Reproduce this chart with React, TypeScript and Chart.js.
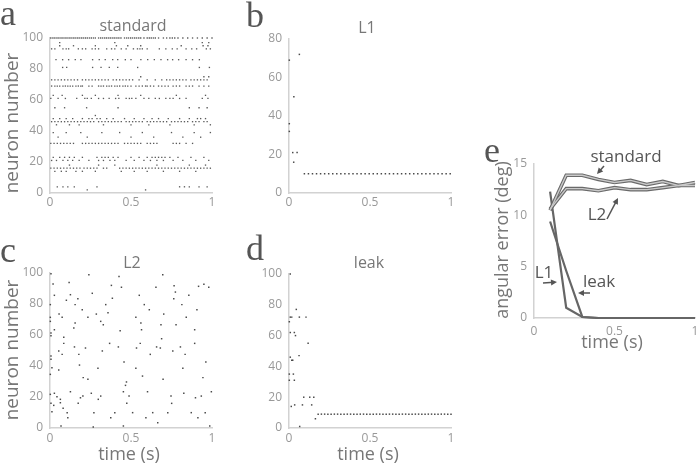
import React, { useEffect, useRef } from 'react';
import { Chart, registerables } from 'chart.js';
Chart.register(...registerables);

// ---------- Panel a: "standard" raster (neuron ids and spike times per neuron) ----------
const standardNeurons: number[] = [100, 97, 95, 93, 86, 81, 75, 73, 69, 63, 61, 55, 50, 48, 46, 44, 39, 36, 32, 23, 21, 18, 16, 14, 4, 2];
const standardSpikes: number[][] = [
  [0.005,0.018,0.03,0.043,0.055,0.068,0.08,0.093,0.105,0.118,0.13,0.143,0.155,0.168,0.18,0.193,0.205,0.218,0.23,0.243,0.255,0.268,0.28,0.3,0.313,0.325,0.338,0.35,0.363,0.375,0.388,0.4,0.413,0.425,0.438,0.46,0.473,0.485,0.498,0.51,0.523,0.535,0.548,0.56,0.58,0.6,0.613,0.625,0.638,0.65,0.67,0.7,0.72,0.74,0.755,0.77,0.79,0.82,0.85,0.88,0.91,0.94,0.97,1.0],
  [0.06,0.4,0.94,0.98],
  [0.06,0.145,0.28,0.41,0.48,0.56,0.81,0.945,0.975],
  [0.01,0.03,0.08,0.1,0.115,0.175,0.2,0.22,0.26,0.28,0.3,0.35,0.38,0.4,0.44,0.47,0.515,0.54,0.555,0.57,0.6,0.675,0.715,0.755,0.785,0.84,0.875,0.905,0.965,0.99],
  [0.037,0.078,0.115,0.156,0.191,0.263,0.304,0.341,0.387,0.418,0.465,0.5,0.561,0.603,0.644,0.685,0.726,0.757,0.794,0.84,0.88,0.922],
  [0.078,0.103,0.263,0.315,0.366,0.418,0.541,0.922,0.984],
  [0.56,0.95,0.98],
  [0.01,0.03,0.05,0.07,0.09,0.11,0.13,0.15,0.17,0.2,0.22,0.24,0.26,0.28,0.3,0.32,0.34,0.36,0.39,0.41,0.43,0.45,0.47,0.49,0.51,0.55,0.6,0.65,0.69,0.72,0.74,0.76,0.78,0.8,0.82,0.84,0.87,0.89,0.91,0.93,0.95,0.97],
  [0.01,0.03,0.045,0.06,0.08,0.095,0.11,0.125,0.14,0.16,0.175,0.19,0.2,0.24,0.26,0.3,0.315,0.33,0.35,0.365,0.38,0.4,0.415,0.43,0.45,0.465,0.48,0.5,0.53,0.55,0.57,0.59,0.6,0.62,0.64,0.67,0.69,0.71,0.73,0.76,0.78,0.8,0.84,0.86,0.88,0.92,0.95,0.98],
  [0.02,0.075,0.2,0.28,0.42,0.56,0.78,0.96],
  [0.005,0.05,0.095,0.165,0.215,0.23,0.255,0.3,0.33,0.365,0.405,0.425,0.47,0.49,0.505,0.53,0.58,0.61,0.65,0.675,0.715,0.74,0.76,0.8,0.84,0.94,0.975],
  [0.03,0.09,0.226,0.42,0.86,0.92,0.97],
  [0.28],
  [0.02,0.06,0.1,0.14,0.2,0.24,0.26,0.29,0.31,0.35,0.39,0.46,0.52,0.58,0.63,0.67,0.73,0.8,0.86,0.91,0.93,0.96],
  [0.01,0.03,0.05,0.07,0.09,0.11,0.13,0.15,0.17,0.19,0.21,0.23,0.25,0.27,0.3,0.32,0.34,0.36,0.38,0.4,0.42,0.44,0.47,0.49,0.51,0.53,0.55,0.57,0.6,0.62,0.64,0.66,0.68,0.7,0.72,0.75,0.77,0.79,0.81,0.83,0.85,0.88,0.9,0.92,0.95,0.97],
  [0.04,0.12,0.18,0.33,0.5,0.61,0.74,0.89,0.99],
  [0.02,0.1,0.19,0.32,0.43,0.57,0.75,0.89,0.99],
  [0.05,0.23,0.5,0.64,0.82,0.93],
  [0.005,0.025,0.045,0.065,0.085,0.105,0.125,0.145,0.2,0.22,0.24,0.26,0.28,0.3,0.32,0.34,0.36,0.38,0.4,0.42,0.46,0.48,0.5,0.52,0.54,0.56,0.6,0.62,0.64,0.66,0.76,0.78,0.8,0.84,0.88],
  [0.02,0.06,0.09,0.12,0.15,0.2,0.29,0.32,0.34,0.36,0.39,0.42,0.5,0.55,0.6,0.63,0.65,0.67,0.69,0.71,0.74,0.79,0.87,0.95],
  [0.01,0.04,0.08,0.11,0.14,0.18,0.24,0.3,0.33,0.37,0.4,0.47,0.52,0.58,0.62,0.66,0.7,0.76,0.82,0.9,0.98],
  [0.12,0.3,0.4,0.66,0.86,0.96],
  [0.005,0.025,0.045,0.065,0.085,0.105,0.125,0.145,0.165,0.185,0.21,0.23,0.25,0.27,0.29,0.33,0.35,0.43,0.45,0.47,0.49,0.51,0.53,0.55,0.57,0.59,0.61,0.63,0.65,0.67,0.69,0.71,0.73,0.75,0.77,0.79,0.81,0.83,0.85,0.87,0.89,0.91,0.93,0.95,0.97,0.99],
  [0.03,0.07,0.1,0.16,0.2,0.28,0.44,0.52,0.6,0.7,0.8,0.9],
  [0.045,0.08,0.11,0.15,0.29,0.8,0.83,0.86,0.92,0.97],
  [0.23,0.59],
];

// ---------- Panel b: L1 raster ----------
const l1Scattered: [number, number][] = [
  [0.064,72],[0.002,69],[0.03,50],[0.002,36],[0.002,32],[0.023,21],[0.05,21],[0.029,16],
];
const l1PersistentNeuron = 10;
const l1PersistentTimes: number[] = [0.095,0.12,0.145,0.17,0.195,0.22,0.245,0.27,0.295,0.32,0.345,0.37,0.395,0.42,0.445,0.47,0.495,0.52,0.545,0.57,0.595,0.62,0.645,0.67,0.695,0.72,0.745,0.77,0.795,0.82,0.845,0.87,0.895,0.92,0.945,0.97,0.995];

// ---------- Panel c: L2 raster ----------
const l2Spikes: [number, number][] = [
  [0.006,99.5],[0.24,98.9],[0.426,97.8],[0.696,98.9],
  [0.019,92.9],[0.118,93.8],[0.379,92],[0.441,90.8],[0.654,90.8],[0.766,91.8],[0.917,91.4],[0.95,92.7],[0.98,90.8],
  [0.774,87.7],[0.027,85.6],[0.126,86],[0.261,86.9],[0.172,83.4],[0.101,82.4],[0.385,83.7],[0.551,85.6],[0.764,83.4],[0.857,85.6],
  [0.002,79.6],[0.155,79.6],[0.344,79.6],[0.582,79.6],[0.814,79.6],
  [0.199,76.3],[0.613,76.3],[0.907,76.3],
  [0.056,73.5],[0.075,71.4],[0.234,71.4],[0.286,73.5],[0.358,74.4],[0.53,71.4],[0.702,73.5],[0.841,71.4],
  [0.002,71.4],[0.002,68.8],[0.155,67.7],[0.313,68.8],[0.329,66.6],[0.561,67.7],[0.685,66.6],[0.778,66.6],
  [0.147,64.5],[0.027,63.4],[0.433,62.8],[0.565,63.4],[0.893,63.4],
  [0.006,61.3],[0.006,59.5],[0.085,58.5],[0.689,57.6],
  [0.085,54.6],[0.368,54.6],[0.557,54.6],[0.893,54.6],
  [0.151,52.3],[0.219,51.6],[0.422,52.3],[0.534,51.6],[0.658,52.3],[0.681,51.6],[0.805,52.3],
  [0.054,49.7],[0.075,47.5],[0.178,47.5],[0.323,49.7],[0.619,47.5],[0.758,49.7],[0.834,47.5],
  [0.006,46.5],[0.006,44.3],[0.457,42.6],[0.962,42.6],
  [0.012,38.9],[0.054,37.4],[0.182,40.6],[0.296,38.5],[0.53,38.5],[0.82,38.5],
  [0.002,34.6],[0.571,33.5],[0.205,32.5],[0.234,31.4],[0.698,31.4],[0.944,32.5],
  [0.472,29.7],[0.466,27.5],
  [0.027,22.4],[0.126,23.4],[0.002,21.7],[0.043,20.2],[0.064,18.5],[0.188,19.5],[0.203,20.6],[0.255,22.4],[0.298,18.5],[0.313,20.6],[0.453,23.4],[0.488,20.6],[0.602,23.4],[0.747,20.6],[0.826,22.4],[0.898,19.5],[0.934,20.6],[0.996,23.4],
  [0.006,15.9],[0.023,14.6],[0.064,16.3],[0.174,15.9],[0.474,15.9],[0.751,15.9],
  [0.081,12.7],[0.012,10.5],[0.106,9.9],[0.271,9.9],[0.4,9.9],[0.51,9.9],[0.634,9.9],[0.727,9.9],[0.872,9.9],[0.958,9.9],
  [0.11,6.6],[0.375,6.6],[0.592,6.6],[0.913,6.6],
  [0.665,3.4],[0.068,1.3],[0.267,0.6],[0.453,1.3],[0.986,1.3],
];

// ---------- Panel d: leak raster ----------
const leakScattered: [number, number][] = [
  [0.008,100],[0.045,77],[0.008,72],[0.017,72],[0.064,72],[0.105,72],[0.002,69],[0.008,62],[0.033,62],[0.04,60],
  [0.118,55],[0.062,47],[0.008,46],[0.017,44],[0.023,44],[0.002,35],[0.027,35],[0.002,31],[0.033,31],
  [0.091,20],[0.128,20],[0.153,20],[0.014,14],[0.035,15],[0.083,15],[0.14,15],[0.163,6],[0.066,1],
];
const leakPersistentNeuron = 9;
const leakPersistentTimes: number[] = [0.18,0.2,0.22,0.24,0.26,0.28,0.3,0.32,0.34,0.36,0.38,0.4,0.42,0.44,0.46,0.48,0.5,0.52,0.54,0.56,0.58,0.6,0.62,0.64,0.66,0.68,0.7,0.72,0.74,0.76,0.78,0.8,0.82,0.84,0.86,0.88,0.9,0.92,0.94,0.96,0.98,1.0];

// ---------- Panel e: angular error over time ----------
const eTimes: number[] = [0.1,0.2,0.3,0.4,0.5,0.6,0.7,0.8,0.9,1.0];
const errStandard: number[] = [10.5,13.9,13.9,13.5,13.2,13.4,13.0,13.3,12.9,13.2];
const errL2: number[] = [10.6,12.6,12.6,12.4,12.7,12.5,12.5,12.7,12.9,12.9];
const errL1: number[] = [12.3,1.0,0.1,0,0,0,0,0,0,0];
const errLeak: number[] = [9.4,4.6,0.1,0,0,0,0,0,0,0];

const xTickValues = ['0', '0.5', '1'];

// ---------- helpers ----------
type Box = { left: number; top: number; width: number; height: number };
type Area = { l: number; t: number; r: number; b: number };
type Txt = { x: number; y: number; text: string; font: string; color: string; align?: CanvasTextAlign; baseline?: CanvasTextBaseline; rotate?: boolean };
type Arrow = { x1: number; y1: number; x2: number; y2: number };

const SANS = '"Open Sans", "Noto Sans", sans-serif';
const SERIF = '"Liberation Serif", "DejaVu Serif", serif';
const LETTER_FONT = `36px ${SERIF}`;
const LABEL_FONT = `18px ${SANS}`;
const YLABEL_FONT = `19px ${SANS}`;
const TITLE_FONT = `16px ${SANS}`;
const ANNO_FONT = `17px ${SANS}`;

function overlay(box: Box, texts: Txt[], arrows: Arrow[] = []) {
  return {
    id: 'overlay',
    afterDraw(chart: any) {
      const ctx: CanvasRenderingContext2D = chart.ctx;
      ctx.save();
      for (const t of texts) {
        ctx.save();
        ctx.font = t.font;
        ctx.fillStyle = t.color;
        ctx.textAlign = t.align || 'center';
        ctx.textBaseline = t.baseline || 'alphabetic';
        ctx.translate(t.x - box.left, t.y - box.top);
        if (t.rotate) ctx.rotate(-Math.PI / 2);
        ctx.fillText(t.text, 0, 0);
        ctx.restore();
      }
      ctx.strokeStyle = '#555';
      ctx.fillStyle = '#555';
      ctx.lineWidth = 1.5;
      for (const a of arrows) {
        const x1 = a.x1 - box.left, y1 = a.y1 - box.top, x2 = a.x2 - box.left, y2 = a.y2 - box.top;
        const ang = Math.atan2(y2 - y1, x2 - x1);
        ctx.beginPath();
        ctx.moveTo(x1, y1);
        ctx.lineTo(x2 - 3 * Math.cos(ang), y2 - 3 * Math.sin(ang));
        ctx.stroke();
        const hl = 6, hw = 3;
        ctx.beginPath();
        ctx.moveTo(x2, y2);
        ctx.lineTo(x2 - hl * Math.cos(ang) + hw * Math.sin(ang), y2 - hl * Math.sin(ang) - hw * Math.cos(ang));
        ctx.lineTo(x2 - hl * Math.cos(ang) - hw * Math.sin(ang), y2 - hl * Math.sin(ang) + hw * Math.cos(ang));
        ctx.closePath();
        ctx.fill();
      }
      ctx.restore();
    },
  };
}

function baseOptions(box: Box, area: Area, yMax: number, yStep: number, xPad: number) {
  const yW = area.l - box.left;
  const xH = box.top + box.height - area.b;
  const tickFont = { family: SANS, size: 12 };
  return {
    animation: false,
    responsive: false,
    events: [],
    layout: { padding: { left: 0, top: area.t - box.top, right: box.left + box.width - area.r, bottom: 0 } },
    plugins: { legend: { display: false }, tooltip: { enabled: false }, title: { display: false } },
    scales: {
      x: {
        type: 'linear',
        min: 0,
        max: 1,
        afterFit: (s: any) => { s.height = xH; },
        afterBuildTicks: (s: any) => { s.ticks = xTickValues.map((v) => ({ value: Number(v) })); },
        ticks: { color: '#999', font: tickFont, padding: xPad, maxRotation: 0, autoSkip: false, callback: (v: any) => String(v) },
        grid: { display: false, drawTicks: false },
        border: { display: true, color: '#d2d2d2', width: 1.5 },
      },
      y: {
        type: 'linear',
        min: 0,
        max: yMax,
        afterFit: (s: any) => { s.width = yW; },
        ticks: { stepSize: yStep, color: '#999', font: tickFont, padding: 7, autoSkip: false, callback: (v: any) => String(v) },
        grid: { display: false, drawTicks: false },
        border: { display: true, color: '#d2d2d2', width: 1.5 },
      },
    },
  };
}

function rasterDataset(points: { x: number; y: number }[], color: string, radius: number) {
  return {
    data: points,
    pointRadius: radius,
    pointStyle: 'rect',
    pointBackgroundColor: color,
    pointBorderWidth: 0,
    showLine: false,
    clip: false,
  };
}

function Panel({ box, build }: { box: Box; build: () => any }) {
  const ref = useRef<HTMLCanvasElement>(null);
  useEffect(() => {
    const chart = new Chart(ref.current as HTMLCanvasElement, build());
    return () => chart.destroy();
  }, []);
  return (
    <canvas
      ref={ref}
      width={box.width}
      height={box.height}
      style={{ position: 'absolute', left: box.left, top: box.top, width: box.width, height: box.height }}
    />
  );
}

// ---------- boxes ----------
const boxA: Box = { left: 0, top: 0, width: 232, height: 218 };
const areaA: Area = { l: 50, t: 38, r: 212, b: 193 };
const boxB: Box = { left: 240, top: 0, width: 230, height: 218 };
const areaB: Area = { l: 289, t: 39, r: 451, b: 193 };
const boxC: Box = { left: 0, top: 220, width: 232, height: 245 };
const areaC: Area = { l: 50, t: 273, r: 212, b: 428 };
const boxD: Box = { left: 240, top: 220, width: 230, height: 245 };
const areaD: Area = { l: 289, t: 274, r: 451, b: 428 };
const boxE: Box = { left: 470, top: 140, width: 240, height: 225 };
const areaE: Area = { l: 534, t: 164, r: 695, b: 318 };

function buildA() {
  const pts: { x: number; y: number }[] = [];
  standardNeurons.forEach((n, i) => standardSpikes[i].forEach((t) => pts.push({ x: t, y: n })));
  return {
    type: 'scatter',
    data: { datasets: [rasterDataset(pts, '#5a5a5a', 0.95)] },
    options: baseOptions(boxA, areaA, 100, 20, 2),
    plugins: [overlay(boxA, [
      { x: 0, y: 25, text: 'a', font: LETTER_FONT, color: '#555', align: 'left' },
      { x: 133, y: 31, text: 'standard', font: TITLE_FONT, color: '#777' },
      { x: 13, y: 123, text: 'neuron number', font: YLABEL_FONT, color: '#777', rotate: true, baseline: 'middle' },
    ])],
  };
}

function buildB() {
  const pts = l1Scattered.map(([t, n]) => ({ x: t, y: n }));
  l1PersistentTimes.forEach((t) => pts.push({ x: t, y: l1PersistentNeuron }));
  return {
    type: 'scatter',
    data: { datasets: [rasterDataset(pts, '#4a4a4a', 1.05)] },
    options: baseOptions(boxB, areaB, 80, 20, 2),
    plugins: [overlay(boxB, [
      { x: 246, y: 27, text: 'b', font: LETTER_FONT, color: '#555', align: 'left' },
      { x: 367, y: 33, text: 'L1', font: TITLE_FONT, color: '#777' },
    ])],
  };
}

function buildC() {
  const pts = l2Spikes.map(([t, n]) => ({ x: t, y: n }));
  return {
    type: 'scatter',
    data: { datasets: [rasterDataset(pts, '#4a4a4a', 1.05)] },
    options: baseOptions(boxC, areaC, 100, 20, 3),
    plugins: [overlay(boxC, [
      { x: 0, y: 262, text: 'c', font: LETTER_FONT, color: '#555', align: 'left' },
      { x: 132, y: 268, text: 'L2', font: TITLE_FONT, color: '#777' },
      { x: 13, y: 350, text: 'neuron number', font: YLABEL_FONT, color: '#777', rotate: true, baseline: 'middle' },
      { x: 129, y: 455, text: 'time (s)', font: LABEL_FONT, color: '#777', baseline: 'middle' },
    ])],
  };
}

function buildD() {
  const pts = leakScattered.map(([t, n]) => ({ x: t, y: n }));
  leakPersistentTimes.forEach((t) => pts.push({ x: t, y: leakPersistentNeuron }));
  return {
    type: 'scatter',
    data: { datasets: [rasterDataset(pts, '#4a4a4a', 1.05)] },
    options: baseOptions(boxD, areaD, 100, 20, 3),
    plugins: [overlay(boxD, [
      { x: 246, y: 260, text: 'd', font: LETTER_FONT, color: '#555', align: 'left' },
      { x: 369, y: 268, text: 'leak', font: TITLE_FONT, color: '#777' },
      { x: 368, y: 455, text: 'time (s)', font: LABEL_FONT, color: '#777', baseline: 'middle' },
    ])],
  };
}

function buildE() {
  const pts = (vals: number[]) => eTimes.map((t, i) => ({ x: t, y: vals[i] }));
  const band = (vals: number[]) => [
    { data: pts(vals), borderColor: '#6a6a6a', borderWidth: 3.6, pointRadius: 0, tension: 0, clip: false, order: 3 },
    { data: pts(vals), borderColor: '#c9c9c9', borderWidth: 1.4, pointRadius: 0, tension: 0, clip: false, order: 1 },
  ];
  const single = (vals: number[]) => ({ data: pts(vals), borderColor: '#666', borderWidth: 2.2, pointRadius: 0, tension: 0, clip: false, order: 2 });
  const opts: any = baseOptions(boxE, areaE, 15, 5, 6);
  return {
    type: 'line',
    data: { datasets: [...band(errStandard), ...band(errL2), single(errL1), single(errLeak)] },
    options: opts,
    plugins: [overlay(boxE, [
      { x: 484, y: 162, text: 'e', font: LETTER_FONT, color: '#555', align: 'left' },
      { x: 626, y: 162, text: 'standard', font: ANNO_FONT, color: '#555' },
      { x: 597, y: 220, text: 'L2', font: ANNO_FONT, color: '#555' },
      { x: 544, y: 278, text: 'L1', font: ANNO_FONT, color: '#555' },
      { x: 599, y: 287, text: 'leak', font: ANNO_FONT, color: '#555' },
      { x: 503, y: 240, text: 'angular error (deg)', font: LABEL_FONT, color: '#777', rotate: true, baseline: 'middle' },
      { x: 612, y: 343, text: 'time (s)', font: LABEL_FONT, color: '#777', baseline: 'middle' },
    ], [
      { x1: 604, y1: 166, x2: 597, y2: 174 },
      { x1: 607, y1: 219, x2: 618, y2: 198 },
      { x1: 543, y1: 283, x2: 557, y2: 282 },
      { x1: 590, y1: 293, x2: 578, y2: 293 },
    ])],
  };
}

export default function App() {
  return (
    <div style={{ position: 'absolute', left: 0, top: 0, width: 697, height: 465, overflow: 'hidden', background: '#fff' }}>
      <Panel box={boxA} build={buildA} />
      <Panel box={boxB} build={buildB} />
      <Panel box={boxC} build={buildC} />
      <Panel box={boxD} build={buildD} />
      <Panel box={boxE} build={buildE} />
    </div>
  );
}
